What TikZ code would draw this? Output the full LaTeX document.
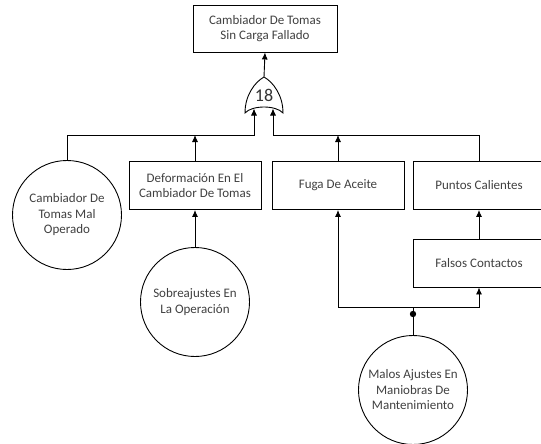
\documentclass[tikz,border=0pt]{standalone}
\usepackage{fontspec}
\setmainfont{Carlito}
\usetikzlibrary{arrows.meta}

\tikzset{
	evbox/.style={draw, rectangle, minimum width=132pt, minimum height=48pt, inner sep=0pt, align=center, text=black!75, font=\fontsize{13}{15.5}\selectfont},
	basic/.style={draw, circle, minimum size=109pt, inner sep=0pt, align=center, text=black!75, font=\fontsize{13}{15.5}\selectfont},
	link/.style={-{Latex[length=7pt,width=6pt]}}
}

\begin{document}
\begin{tikzpicture}[x=1pt,y=-1pt,line width=0.9pt]
	\clip (0,0) rectangle (541,444);

	%% Top Event %%
	\node [evbox, minimum width=144pt, minimum height=47pt] (top) at (265,28.5) {Cambiador De Tomas\\Sin Carga Fallado};

	%% OR Gate %%
	\draw [fill=white] (245,113) .. controls (245,95) and (255,82) .. (264,77) .. controls (273,82) and (283,95) .. (283,113) .. controls (276,105) and (252,105) .. (245,113) -- cycle;
	\node [text=black!80, font=\fontsize{18}{18}\selectfont, inner sep=0pt] (gate) at (264,95) {18};
	\coordinate (gout) at (264,77);
	\coordinate (gin1) at (254,108.5);
	\coordinate (gin2) at (273,108.5);
	\coordinate (busL) at (254,135);
	\coordinate (busR) at (273,135);
	\draw [link] (gout) -- (top.south);

	%% Second Level %%
	\node [basic] (opcirc) at (67,215) {Cambiador De\\Tomas Mal\\Operado};
	\node [evbox] (deform) at (195,185.5) {Deformación En El\\Cambiador De Tomas};
	\node [evbox] (fuga) at (338,185.5) {Fuga De Aceite};
	\node [evbox] (puntos) at (479,185.5) {Puntos Calientes};
	\draw [link] (opcirc.north) |- (busL) -- (gin1);
	\draw [link] (puntos.north) |- (busR) -- (gin2);
	\draw [link] (deform.north) -- (deform.north |- busL);
	\draw [link] (fuga.north) -- (fuga.north |- busR);

	%% Lower Events %%
	\node [basic] (sobre) at (195,302) {Sobreajustes En\\La Operación};
	\node [evbox] (falsos) at (479,263) {Falsos Contactos};
	\node [basic] (malos) at (413,390) {Malos Ajustes En\\Maniobras De\\Mantenimiento};
	\draw [link] (sobre.north) -- (deform.south);
	\draw [link] (falsos.north) -- (puntos.south);

	%% Shared Cause %%
	\coordinate (split) at (413,307);
	\coordinate (jdot) at (413,314);
	\draw (malos.north) -- (split);
	\fill (jdot) circle (3.2);
	\draw [link] (split) -| (fuga.south);
	\draw [link] (split) -| (falsos.south);

\end{tikzpicture}
\end{document}
